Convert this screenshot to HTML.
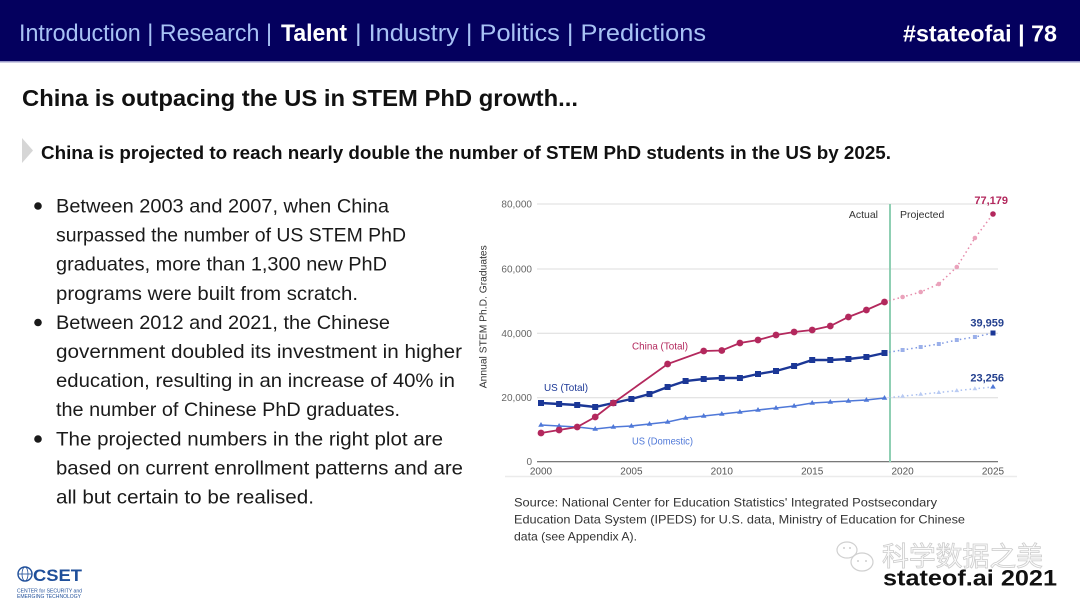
<!DOCTYPE html>
<html><head><meta charset="utf-8"><style>
html,body{margin:0;padding:0;background:#fff;}
svg{display:block;}
text{font-family:"Liberation Sans","Noto Sans CJK SC",sans-serif;}
</style></head><body>
<svg width="1080" height="608" viewBox="0 0 1080 608" xmlns="http://www.w3.org/2000/svg">
<rect x="0" y="0" width="1080" height="608" fill="#fff"/>
<!-- header -->
<rect x="0" y="0" width="1080" height="61" fill="#04005e"/>
<rect x="0" y="61" width="1080" height="1.5" fill="#9a9ac8"/>
<text x="19" y="41" font-size="24" fill="#a8c2f4" textLength="253" lengthAdjust="spacingAndGlyphs">Introduction | Research |</text>
<text x="281" y="41" font-size="24" font-weight="bold" fill="#fff" textLength="66" lengthAdjust="spacingAndGlyphs">Talent</text>
<text x="355" y="41" font-size="24" fill="#a8c2f4" textLength="351" lengthAdjust="spacingAndGlyphs">| Industry | Politics | Predictions</text>
<text x="903" y="41.5" font-size="23" font-weight="bold" fill="#fff" textLength="154" lengthAdjust="spacingAndGlyphs">#stateofai | 78</text>

<!-- title -->
<text x="22" y="106" font-size="23" font-weight="bold" fill="#111" textLength="556" lengthAdjust="spacingAndGlyphs">China is outpacing the US in STEM PhD growth...</text>
<polygon points="22,138 33,150.5 22,163" fill="#d6d6d6"/>
<text x="41" y="159" font-size="18" font-weight="bold" fill="#111" textLength="850" lengthAdjust="spacingAndGlyphs">China is projected to reach nearly double the number of STEM PhD students in the US by 2025.</text>

<!-- bullets -->
<g fill="#1a1a1a" font-size="19.5">
<circle cx="38" cy="206" r="3.8"/>
<circle cx="38" cy="322.5" r="3.8"/>
<circle cx="38" cy="439" r="3.8"/>
<text x="56" y="212.5" textLength="333" lengthAdjust="spacingAndGlyphs">Between 2003 and 2007, when China</text>
<text x="56" y="241.6" textLength="350" lengthAdjust="spacingAndGlyphs">surpassed the number of US STEM PhD</text>
<text x="56" y="270.7" textLength="331" lengthAdjust="spacingAndGlyphs">graduates, more than 1,300 new PhD</text>
<text x="56" y="299.8" textLength="302" lengthAdjust="spacingAndGlyphs">programs were built from scratch.</text>
<text x="56" y="328.9" textLength="334" lengthAdjust="spacingAndGlyphs">Between 2012 and 2021, the Chinese</text>
<text x="56" y="358" textLength="406" lengthAdjust="spacingAndGlyphs">government doubled its investment in higher</text>
<text x="56" y="387.1" textLength="399" lengthAdjust="spacingAndGlyphs">education, resulting in an increase of 40% in</text>
<text x="56" y="416.2" textLength="344" lengthAdjust="spacingAndGlyphs">the number of Chinese PhD graduates.</text>
<text x="56" y="445.3" textLength="387" lengthAdjust="spacingAndGlyphs">The projected numbers in the right plot are</text>
<text x="56" y="474.4" textLength="407" lengthAdjust="spacingAndGlyphs">based on current enrollment patterns and are</text>
<text x="56" y="503.5" textLength="258" lengthAdjust="spacingAndGlyphs">all but certain to be realised.</text>
</g>

<!-- chart -->
<g>
<line x1="537" y1="204" x2="998" y2="204" stroke="#dcdcdc" stroke-width="1"/>
<line x1="537" y1="269" x2="998" y2="269" stroke="#dcdcdc" stroke-width="1"/>
<line x1="537" y1="333.3" x2="998" y2="333.3" stroke="#dcdcdc" stroke-width="1"/>
<line x1="537" y1="397.7" x2="998" y2="397.7" stroke="#dcdcdc" stroke-width="1"/>
<line x1="537" y1="461.7" x2="998" y2="461.7" stroke="#666" stroke-width="1.2"/>
<line x1="505" y1="476.5" x2="1017" y2="476.5" stroke="#ebebeb" stroke-width="1.5"/>
<g font-size="10" fill="#666" text-anchor="end">
<text x="532" y="207.5">80,000</text>
<text x="532" y="272.5">60,000</text>
<text x="532" y="336.8">40,000</text>
<text x="532" y="401.2">20,000</text>
<text x="532" y="465.2">0</text>
</g>
<g font-size="10" fill="#555" text-anchor="middle">
<text x="541" y="474.5">2000</text>
<text x="631.4" y="474.5">2005</text>
<text x="721.8" y="474.5">2010</text>
<text x="812.2" y="474.5">2015</text>
<text x="902.6" y="474.5">2020</text>
<text x="993" y="474.5">2025</text>
</g>
<text transform="translate(486.5,316.7) rotate(-90)" font-size="10.5" fill="#333" text-anchor="middle" textLength="143" lengthAdjust="spacingAndGlyphs">Annual STEM Ph.D. Graduates</text>
<line x1="890" y1="204" x2="890" y2="462" stroke="#8fcfb3" stroke-width="2"/>
<text x="878" y="218" font-size="10.5" fill="#333" text-anchor="end">Actual</text>
<text x="900" y="218" font-size="10.5" fill="#333">Projected</text>

<!-- projected dotted -->
<polyline fill="none" stroke="#e68aaa" stroke-width="1.5" stroke-dasharray="1.5,3" points="884.5,302 902.6,297 920.7,292 938.8,284 956.8,267 974.9,238 993,214"/>
<polyline fill="none" stroke="#7f99e2" stroke-width="1.5" stroke-dasharray="1.5,3" points="884.5,353 902.6,350 920.7,347 938.8,344 956.8,340 974.9,337 993,333"/>
<polyline fill="none" stroke="#a9bff0" stroke-width="1.5" stroke-dasharray="1.5,3" points="884.5,398 902.6,396.2 920.7,394.3 938.8,392.5 956.8,390.6 974.9,388.8 993,387"/>
<g fill="#eaa2bb">
<circle cx="902.6" cy="297" r="2.3"/><circle cx="920.7" cy="292" r="2.3"/><circle cx="938.8" cy="284" r="2.3"/><circle cx="956.8" cy="267" r="2.3"/><circle cx="974.9" cy="238" r="2.3"/>
</g>
<circle cx="993" cy="214" r="2.8" fill="#b3285d"/>
<g fill="#9bb0ea">
<rect x="900.6" y="348" width="4" height="4"/><rect x="918.7" y="345" width="4" height="4"/><rect x="936.8" y="342" width="4" height="4"/><rect x="954.8" y="338" width="4" height="4"/><rect x="972.9" y="335" width="4" height="4"/>
</g>
<rect x="990.5" y="330.5" width="5" height="5" fill="#1b3796"/>
<g fill="#b9cbf3">
<polygon points="902.6,393.7 905,397.7 900.2,397.7"/><polygon points="920.7,391.8 923.1,395.8 918.3,395.8"/><polygon points="938.8,390 941.2,394 936.4,394"/><polygon points="956.8,388.1 959.2,392.1 954.4,392.1"/><polygon points="974.9,386.3 977.3,390.3 972.5,390.3"/>
</g>
<polygon points="993,384 995.8,388.6 990.2,388.6" fill="#4f78d8"/>

<!-- US domestic -->
<polyline fill="none" stroke="#4f78d8" stroke-width="1.6" points="541,425 559.1,426 577.2,427 595.2,429 613.3,427 631.4,426 649.5,424 667.6,422 685.6,418 703.7,416 721.8,414 739.9,412 758,410 776,408 794.1,406 812.2,403 830.3,402 848.4,401 866.4,400 884.5,398"/>
<g fill="#4f78d8">
<polygon points="541,422 543.8,426.8 538.2,426.8"/><polygon points="559.1,423 561.9,427.8 556.3,427.8"/><polygon points="577.2,424 580,428.8 574.4,428.8"/><polygon points="595.2,426 598,430.8 592.4,430.8"/><polygon points="613.3,424 616.1,428.8 610.5,428.8"/><polygon points="631.4,423 634.2,427.8 628.6,427.8"/><polygon points="649.5,421 652.3,425.8 646.7,425.8"/><polygon points="667.6,419 670.4,423.8 664.8,423.8"/><polygon points="685.6,415 688.4,419.8 682.8,419.8"/><polygon points="703.7,413 706.5,417.8 700.9,417.8"/><polygon points="721.8,411 724.6,415.8 719,415.8"/><polygon points="739.9,409 742.7,413.8 737.1,413.8"/><polygon points="758,407 760.8,411.8 755.2,411.8"/><polygon points="776,405 778.8,409.8 773.2,409.8"/><polygon points="794.1,403 796.9,407.8 791.3,407.8"/><polygon points="812.2,400 815,404.8 809.4,404.8"/><polygon points="830.3,399 833.1,403.8 827.5,403.8"/><polygon points="848.4,398 851.2,402.8 845.6,402.8"/><polygon points="866.4,397 869.2,401.8 863.6,401.8"/><polygon points="884.5,395 887.3,399.8 881.7,399.8"/>
</g>

<!-- US total -->
<polyline fill="none" stroke="#1b3796" stroke-width="2.4" points="541,403 559.1,404 577.2,405 595.2,407 613.3,403 631.4,399 649.5,394 667.6,387 685.6,381 703.7,379 721.8,378 739.9,378 758,374 776,371 794.1,366 812.2,360 830.3,360 848.4,359 866.4,357 884.5,353"/>
<g fill="#1b3796">
<rect x="538" y="400" width="6" height="6"/><rect x="556.1" y="401" width="6" height="6"/><rect x="574.2" y="402" width="6" height="6"/><rect x="592.2" y="404" width="6" height="6"/><rect x="610.3" y="400" width="6" height="6"/><rect x="628.4" y="396" width="6" height="6"/><rect x="646.5" y="391" width="6" height="6"/><rect x="664.6" y="384" width="6" height="6"/><rect x="682.6" y="378" width="6" height="6"/><rect x="700.7" y="376" width="6" height="6"/><rect x="718.8" y="375" width="6" height="6"/><rect x="736.9" y="375" width="6" height="6"/><rect x="755" y="371" width="6" height="6"/><rect x="773" y="368" width="6" height="6"/><rect x="791.1" y="363" width="6" height="6"/><rect x="809.2" y="357" width="6" height="6"/><rect x="827.3" y="357" width="6" height="6"/><rect x="845.4" y="356" width="6" height="6"/><rect x="863.4" y="354" width="6" height="6"/><rect x="881.5" y="350" width="6" height="6"/>
</g>

<!-- China -->
<polyline fill="none" stroke="#b3285d" stroke-width="1.8" points="541,433 559.1,430 577.2,427 595.2,417 613.3,403 667.6,364 703.7,351 721.8,350.5 739.9,343 758,340 776,335 794.1,332 812.2,330 830.3,326 848.4,317 866.4,310 884.5,302"/>
<g fill="#b3285d">
<circle cx="541" cy="433" r="3.4"/><circle cx="559.1" cy="430" r="3.4"/><circle cx="577.2" cy="427" r="3.4"/><circle cx="595.2" cy="417" r="3.4"/><circle cx="613.3" cy="403" r="3.4"/><circle cx="667.6" cy="364" r="3.4"/><circle cx="703.7" cy="351" r="3.4"/><circle cx="721.8" cy="350.5" r="3.4"/><circle cx="739.9" cy="343" r="3.4"/><circle cx="758" cy="340" r="3.4"/><circle cx="776" cy="335" r="3.4"/><circle cx="794.1" cy="332" r="3.4"/><circle cx="812.2" cy="330" r="3.4"/><circle cx="830.3" cy="326" r="3.4"/><circle cx="848.4" cy="317" r="3.4"/><circle cx="866.4" cy="310" r="3.4"/><circle cx="884.5" cy="302" r="3.4"/>
</g>

<!-- series labels -->
<text x="632" y="349.5" font-size="10.5" fill="#b3285d" textLength="56" lengthAdjust="spacingAndGlyphs">China (Total)</text>
<text x="544" y="391" font-size="10.5" fill="#1b3796" textLength="44" lengthAdjust="spacingAndGlyphs">US (Total)</text>
<text x="632" y="444.5" font-size="10.5" fill="#4f78d8" textLength="61" lengthAdjust="spacingAndGlyphs">US (Domestic)</text>
<text x="1008" y="204" font-size="11" font-weight="bold" fill="#b3285d" text-anchor="end">77,179</text>
<text x="1004" y="326.5" font-size="11" font-weight="bold" fill="#24408f" text-anchor="end">39,959</text>
<text x="1004" y="381.5" font-size="11" font-weight="bold" fill="#24408f" text-anchor="end">23,256</text>
</g>

<!-- source -->
<g font-size="12" fill="#333">
<text x="514" y="506.5" textLength="423" lengthAdjust="spacingAndGlyphs">Source: National Center for Education Statistics' Integrated Postsecondary</text>
<text x="514" y="523.5" textLength="451" lengthAdjust="spacingAndGlyphs">Education Data System (IPEDS) for U.S. data, Ministry of Education for Chinese</text>
<text x="514" y="540.5" textLength="123" lengthAdjust="spacingAndGlyphs">data (see Appendix A).</text>
</g>

<!-- CSET logo -->
<g>
<circle cx="25" cy="574" r="7" fill="none" stroke="#1f4f9a" stroke-width="1.4"/>
<ellipse cx="25" cy="574" rx="3" ry="7" fill="none" stroke="#1f4f9a" stroke-width="0.8"/>
<line x1="18" y1="574" x2="32" y2="574" stroke="#1f4f9a" stroke-width="0.8"/>
<text x="33" y="581" font-size="17" font-weight="bold" fill="#1f4f9a" textLength="49" lengthAdjust="spacingAndGlyphs">CSET</text>
<text x="17" y="592.5" font-size="5.5" fill="#1f4f9a" textLength="65" lengthAdjust="spacingAndGlyphs">CENTER for SECURITY and</text>
<text x="17" y="598" font-size="5.5" fill="#1f4f9a" textLength="64" lengthAdjust="spacingAndGlyphs">EMERGING TECHNOLOGY</text>
</g>

<!-- footer -->
<text x="883" y="585.5" font-size="22" font-weight="bold" fill="#111" textLength="174" lengthAdjust="spacingAndGlyphs">stateof.ai 2021</text>

<!-- watermark -->
<g opacity="0.85">
<ellipse cx="847" cy="550" rx="10" ry="8" fill="#fff" stroke="#c8c8c8" stroke-width="1.2"/>
<ellipse cx="862" cy="562" rx="11" ry="9" fill="#fff" stroke="#c8c8c8" stroke-width="1.2"/>
<circle cx="844" cy="548" r="1" fill="#c8c8c8"/><circle cx="850" cy="548" r="1" fill="#c8c8c8"/>
<circle cx="858" cy="561" r="1" fill="#c8c8c8"/><circle cx="866" cy="561" r="1" fill="#c8c8c8"/>
<text x="882" y="566" font-size="27" fill="#f6f6f6" fill-opacity="0.4" stroke="#c4c4c4" stroke-width="0.8" textLength="161" lengthAdjust="spacingAndGlyphs" font-family="'Noto Sans CJK SC',sans-serif">科学数据之美</text>
</g>
</svg>
</body></html>
